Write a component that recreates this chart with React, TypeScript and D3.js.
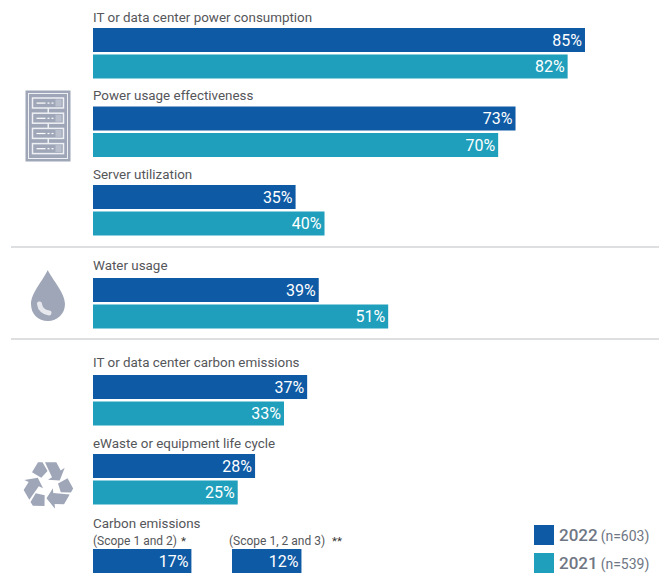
import React from "react";
import * as d3 from "d3";

const metricLabels = [
  "IT or data center power consumption",
  "Power usage effectiveness",
  "Server utilization",
  "Water usage",
  "IT or data center carbon emissions",
  "eWaste or equipment life cycle",
];
const values2022 = [85, 73, 35, 39, 37, 28];
const values2021 = [82, 70, 40, 51, 33, 25];
const rowTops = [28, 106.5, 185, 278, 375, 454];
const labelBaselines = [21.5, 100, 178.5, 269.5, 366.5, 447.5];

const scopeLabels = ["(Scope 1 and 2)", "(Scope 1, 2 and 3)"];
const scopeMarks = ["*", "**"];
const scopeValues = [17, 12];
const scopeStarts = [93, 232];

const legendYears = ["2022", "2021"];
const legendCounts = ["(n=603)", "(n=539)"];

const BLUE = "#0e5aa5";
const TEAL = "#1f9fbc";
const TEXT = "#55565a";
const ICON = "#9ea6b8";
const RULE = "#bdbfc2";
const FONT = "Roboto, sans-serif";

const W = 659;
const H = 574;
const BAR_H = 24;
const ROW_STEP = 26.5;

const x = d3.scaleLinear().domain([0, 100]).range([0, 578.8]);

function Bar({ left, top, value, fill }: { left: number; top: number; value: number; fill: string }) {
  const w = x(value);
  return (
    <g>
      <rect x={left} y={top} width={w} height={BAR_H} fill={fill} />
      <text x={left + w - 3} y={top + 17.5} textAnchor="end" fill="#fff" fontSize={16} fontWeight={400}>
        {value}%
      </text>
    </g>
  );
}

function ServerIcon() {
  const slots = d3.range(4);
  return (
    <g transform="translate(25.500,90.500)">
      <rect x={0} y={0} width={45} height={71} fill={ICON} />
      <rect x={3} y={3} width={39} height={65} fill="none" stroke="#eef0f4" strokeWidth={1} />
      <rect x={22} y={8} width={1.5} height={55} fill="#eef0f4" />
      {slots.map((i) => (
        <g key={i} transform={`translate(7,${7.500 + i * 15.2})`}>
          <rect x={0} y={0} width={31} height={10} fill={ICON} stroke="#eef0f4" strokeWidth={1.5} />
          <rect x={4} y={4.500} width={9} height={1.2} fill="#fff" />
          <rect x={15} y={4.500} width={2} height={1.2} fill="#fff" />
          <rect x={19} y={4.500} width={2} height={1.2} fill="#fff" />
          <rect x={23} y={1.500} width={6} height={7} fill="#b9bfcc" />
        </g>
      ))}
    </g>
  );
}

function DropIcon() {
  return (
    <g>
      <path
        d="M47.700 270 C44 279 31 293 31 304 C31 314 38 321 48 321 C57 321 65 314 65 304 C65 293 52 279 47.700 270 Z"
        fill={ICON}
      />
      <path
        d="M39.500 304 C40 309 44 312.500 49 313"
        fill="none"
        stroke="#e6e8ee"
        strokeWidth={5}
        strokeLinecap="round"
      />
    </g>
  );
}

function RecycleIcon() {
  const arrow = "M-3 -23.300 L8.300 -23.300 L12.700 -15 L16.700 -17.700 L11.700 -5 L0 -5.700 L4 -8.300 Z";
  const tail = "M-16 -13.300 L-10 -23.300 L-5.500 -23.300 L-0.500 -14.500 L-6.700 -7.700 Z";
  return (
    <g transform="translate(48,485.500)" fill={ICON}>
      {[0, 120, 240].map((angle) => (
        <g key={angle} transform={`rotate(${angle})`}>
          <path d={arrow} />
          <path d={tail} />
        </g>
      ))}
    </g>
  );
}

export default function App() {
  return (
    <svg
      width={W}
      height={H}
      viewBox={`0 0 ${W} ${H}`}
      style={{ position: "absolute", left: 0, top: 0, background: "#fff" }}
      fontFamily={FONT}
    >
      <ServerIcon />
      <DropIcon />
      <RecycleIcon />

      <line x1={11} x2={659} y1={247} y2={247} stroke={RULE} strokeWidth={1.200} />
      <line x1={11} x2={659} y1={339} y2={339} stroke={RULE} strokeWidth={1.200} />

      {metricLabels.map((label, i) => (
        <g key={label}>
          <text x={93} y={labelBaselines[i]} fontSize={13.400} fill={TEXT}>
            {label}
          </text>
          <Bar left={93} top={rowTops[i]} value={values2022[i]} fill={BLUE} />
          <Bar left={93} top={rowTops[i] + ROW_STEP} value={values2021[i]} fill={TEAL} />
        </g>
      ))}

      <text x={93} y={528} fontSize={13.400} fill={TEXT}>
        Carbon emissions
      </text>
      {scopeLabels.map((label, i) => (
        <g key={label}>
          <text x={scopeStarts[i] - (i === 0 ? 0 : 3)} y={545} fontSize={12} fill={TEXT}>
            {label}
          </text>
          <text x={i === 0 ? 181 : 332} y={545} fontSize={11.500} fill="#333">
            {scopeMarks[i]}
          </text>
          <Bar left={scopeStarts[i]} top={549} value={scopeValues[i]} fill={BLUE} />
        </g>
      ))}

      {legendYears.map((year, i) => (
        <g key={year} transform={`translate(534,${525 + i * 28})`}>
          <rect width={20} height={20} fill={i === 0 ? BLUE : TEAL} />
          <text x={25} y={16} fontSize={17} fontWeight={500} fill="#6f7684">
            {year}
            <tspan dx={3} fontSize={14} fontWeight={400}>
              {legendCounts[i]}
            </tspan>
          </text>
        </g>
      ))}
    </svg>
  );
}
